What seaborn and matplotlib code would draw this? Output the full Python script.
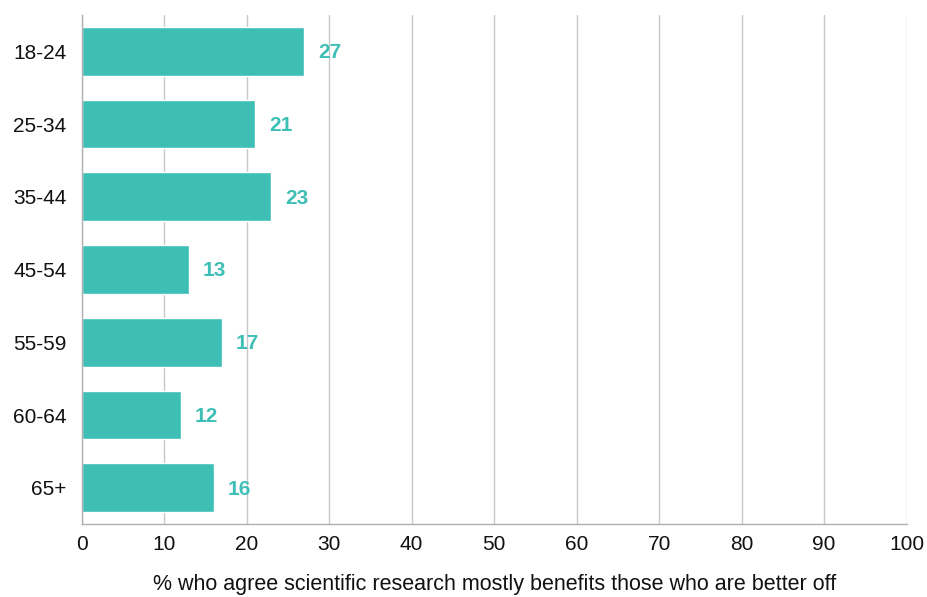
import matplotlib
matplotlib.use("Agg")
import matplotlib.pyplot as plt
import seaborn as sns
import pandas as pd

age_groups = ["18-24", "25-34", "35-44", "45-54", "55-59", "60-64", "65+"]
agree_pct = [27, 21, 23, 13, 17, 12, 16]
x_ticks = [0, 10, 20, 30, 40, 50, 60, 70, 80, 90, 100]
x_label = "% who agree scientific research mostly benefits those who are better off"

teal = "#3dbfb6"
grid_grey = "#c8c8c8"

sns.set_theme(style="white")
plt.rcParams["font.family"] = ["Liberation Sans", "DejaVu Sans"]

df = pd.DataFrame({"age": age_groups, "pct": agree_pct})

fig = plt.figure(figsize=(9.28, 5.97), dpi=100)
ax = fig.add_axes([0.088, 0.122, 0.889, 0.853])

sns.barplot(data=df, x="pct", y="age", order=age_groups, color=teal,
            saturation=1, width=0.67, ax=ax, zorder=3)

for patch, val in zip(ax.patches, agree_pct):
    y = patch.get_y() + patch.get_height() / 2
    ax.annotate(f"{val}", xy=(val, y), xytext=(10, -1), textcoords="offset points",
                ha="left", va="center", color=teal, fontsize=15,
                fontweight="bold", zorder=4)

ax.set_xlim(0, 100)
ax.set_ylim(6.5, -0.5)
ax.set_xticks(x_ticks)
ax.set_xticklabels([str(t) for t in x_ticks])
ax.xaxis.grid(True, color=grid_grey, linewidth=1, zorder=0)
ax.yaxis.grid(False)

for side in ("top", "right"):
    ax.spines[side].set_visible(False)
for side in ("left", "bottom"):
    ax.spines[side].set_color("#b0b0b0")
    ax.spines[side].set_linewidth(1)
    ax.spines[side].set_zorder(5)

ax.tick_params(axis="x", labelsize=15, colors="#111111", length=0, pad=8)
ax.tick_params(axis="y", labelsize=15, colors="#111111", length=0, pad=11)
ax.set_xlabel(x_label, fontsize=15.5, color="#111111", labelpad=14)
ax.set_ylabel("")

fig.savefig("out.png", dpi=100)
